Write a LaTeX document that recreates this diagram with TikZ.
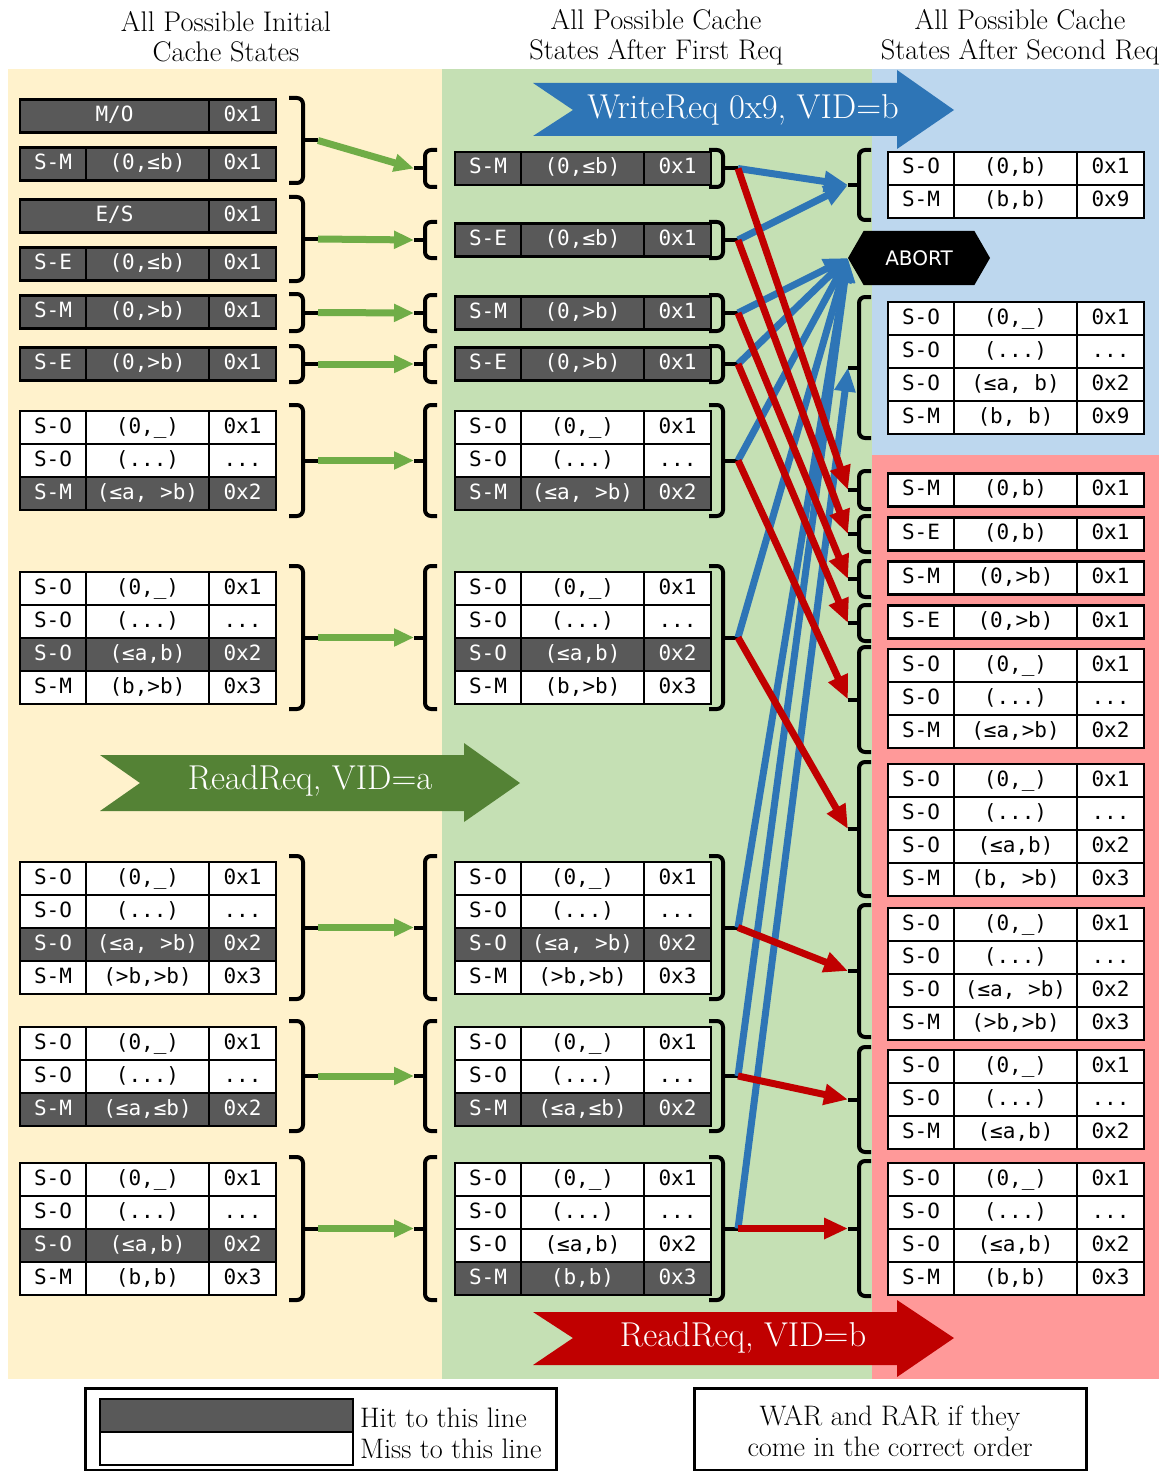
\documentclass[tikz,border=0pt]{standalone}
\usepackage{fontspec}
\usepackage{xcolor}
\usepackage{tikz}
\usetikzlibrary{arrows.meta, shapes.symbols}

\newfontfamily\cellfont{DejaVu Sans Mono}
\newfontfamily\abortfont{DejaVu Sans}

\definecolor{initbg}{HTML}{FFF2CC}
\definecolor{firstbg}{HTML}{C5E0B4}
\definecolor{okbg}{HTML}{BDD7EE}
\definecolor{warbg}{HTML}{FF9999}
\definecolor{hitgray}{HTML}{595959}
\definecolor{wrblue}{HTML}{2E75B6}
\definecolor{rdgreen}{HTML}{548235}
\definecolor{stepgreen}{HTML}{70AD47}
\definecolor{rdred}{HTML}{C00000}

% one cache line: [hit/miss]{name}{left x}{centre y}{state}{range}{data}
\newcommand{\cacherow}[7][miss]{%
  \node[#1, minimum width=66] (#2-st) at (#3+33,#4) {#5};
  \node[#1, minimum width=123] (#2-rg) at (#3+127.5,#4) {#6};
  \node[#1, minimum width=67] (#2-dt) at (#3+222.5,#4) {#7};
}
% line with merged state/range cell
\newcommand{\mergedrow}[4]{%
  \node[hit, minimum width=189] (#1-st) at (#2+94.5,#3) {#4};
  \node[hit, minimum width=67] (#1-dt) at (#2+222.5,#3) {0x1};
}
% closing bracket, tip named #1
\newcommand{\closebrace}[4]{%
  \draw[bracket, rounded corners=6] (#2-14,#3) -- (#2,#3) -- (#2,#4) -- (#2-14,#4);
  \draw[bracket] (#2,{(#3+#4)/2}) -- ++(15,0) coordinate (#1);
}
% opening bracket, tip named #1
\newcommand{\openbrace}[4]{%
  \draw[bracket, rounded corners=6] (#2+12,#3) -- (#2,#3) -- (#2,#4) -- (#2+12,#4);
  \draw[bracket] (#2,{(#3+#4)/2}) -- ++(-11,0) coordinate (#1);
}

\begin{document}
\begin{tikzpicture}[
            x=1pt, y=-1pt,
            cell/.style={draw=black, line width=2.5, minimum height=33, inner sep=0pt, text height=15, text depth=4, font=\cellfont\fontsize{21}{21}\selectfont},
            hit/.style={cell, fill=hitgray, text=white},
            miss/.style={cell, fill=white, text=black},
            bracket/.style={line width=4, black},
            title/.style={align=center, inner sep=0pt, font=\fontsize{28.4}{30}\selectfont},
            reqlabel/.style={text=white, inner sep=0pt, font=\fontsize{34.5}{34.5}\selectfont},
            keytext/.style={inner sep=0pt, font=\fontsize{28.2}{31}\selectfont},
            abort/.style={shape=signal, signal to=east and west, signal pointer angle=120, fill=black, text=white, minimum width=142, minimum height=54, inner sep=0pt, font=\abortfont\fontsize{20}{20}\selectfont},
            stepgo/.style={-{Triangle[length=20,width=17]}, line width=7, stepgreen},
            wrgo/.style={-{Triangle[length=24,width=20]}, line width=7, wrblue},
            rdgo/.style={-{Triangle[length=24,width=20]}, line width=7, rdred}
        ]
        \useasboundingbox (0,0) rectangle (1171,1471);

        % Backgrounds
        \fill[initbg] (8,69) rectangle (442,1379);
        \fill[firstbg] (442,69) rectangle (872,1379);
        \fill[okbg] (872,69) rectangle (1159,455);
        \fill[warbg] (872,455) rectangle (1159,1379);

        % Titles
        \node[title] (initT) at (226,37) {All Possible Initial\\Cache States};
        \node[title] (firstT) at (656,37) {All Possible Cache\\States After First Req};
        \node[title] (secondT) at (1020,37) {All Possible Cache\\States After Second Req};

        % Request arrows
        \fill[wrblue] (533,83) -- (897,83) -- (897,70) -- (954,110) -- (897,149) -- (897,136) -- (533,136) -- (573,110) -- cycle;
        \node[reqlabel] (wrreq) at (743,110) {WriteReq 0x9, VID=b};
        \fill[rdgreen] (100,755) -- (464,755) -- (464,743) -- (520,783) -- (464,822) -- (464,811) -- (100,811) -- (140,783) -- cycle;
        \node[reqlabel] (rdreqa) at (310,781) {ReadReq, VID=a};
        \fill[rdred] (533,1312) -- (897,1312) -- (897,1300) -- (954,1338) -- (897,1377) -- (897,1365) -- (533,1365) -- (573,1338) -- cycle;
        \node[reqlabel] (rdreqb) at (743,1338) {ReadReq, VID=b};

        % Initial states
        \mergedrow{L1a}{20}{116}{M/O}
        \cacherow[hit]{L1b}{20}{164}{S-M}{(0,≤b)}{0x1}
        \mergedrow{L2a}{20}{216}{E/S}
        \cacherow[hit]{L2b}{20}{264}{S-E}{(0,≤b)}{0x1}
        \cacherow[hit]{L3}{20}{312}{S-M}{(0,>b)}{0x1}
        \cacherow[hit]{L4}{20}{364}{S-E}{(0,>b)}{0x1}
        \cacherow{L5a}{20}{427.5}{S-O}{(0,\_)}{0x1}
        \cacherow{L5b}{20}{460.5}{S-O}{(...)}{...}
        \cacherow[hit]{L5c}{20}{493.5}{S-M}{(≤a, >b)}{0x2}
        \cacherow{L6a}{20}{588.5}{S-O}{(0,\_)}{0x1}
        \cacherow{L6b}{20}{621.5}{S-O}{(...)}{...}
        \cacherow[hit]{L6c}{20}{654.5}{S-O}{(≤a,b)}{0x2}
        \cacherow{L6d}{20}{687.5}{S-M}{(b,>b)}{0x3}
        \cacherow{L7a}{20}{878.5}{S-O}{(0,\_)}{0x1}
        \cacherow{L7b}{20}{911.5}{S-O}{(...)}{...}
        \cacherow[hit]{L7c}{20}{944.5}{S-O}{(≤a, >b)}{0x2}
        \cacherow{L7d}{20}{977.5}{S-M}{(>b,>b)}{0x3}
        \cacherow{L8a}{20}{1043.5}{S-O}{(0,\_)}{0x1}
        \cacherow{L8b}{20}{1076.5}{S-O}{(...)}{...}
        \cacherow[hit]{L8c}{20}{1109.5}{S-M}{(≤a,≤b)}{0x2}
        \cacherow{L9a}{20}{1179.5}{S-O}{(0,\_)}{0x1}
        \cacherow{L9b}{20}{1212.5}{S-O}{(...)}{...}
        \cacherow[hit]{L9c}{20}{1245.5}{S-O}{(≤a,b)}{0x2}
        \cacherow{L9d}{20}{1278.5}{S-M}{(b,b)}{0x3}

        % After first request
        \cacherow[hit]{M1}{455}{168.5}{S-M}{(0,≤b)}{0x1}
        \cacherow[hit]{M2}{455}{240}{S-E}{(0,≤b)}{0x1}
        \cacherow[hit]{M3}{455}{313}{S-M}{(0,>b)}{0x1}
        \cacherow[hit]{M4}{455}{364}{S-E}{(0,>b)}{0x1}
        \cacherow{M5a}{455}{427.5}{S-O}{(0,\_)}{0x1}
        \cacherow{M5b}{455}{460.5}{S-O}{(...)}{...}
        \cacherow[hit]{M5c}{455}{493.5}{S-M}{(≤a, >b)}{0x2}
        \cacherow{M6a}{455}{588.5}{S-O}{(0,\_)}{0x1}
        \cacherow{M6b}{455}{621.5}{S-O}{(...)}{...}
        \cacherow[hit]{M6c}{455}{654.5}{S-O}{(≤a,b)}{0x2}
        \cacherow{M6d}{455}{687.5}{S-M}{(b,>b)}{0x3}
        \cacherow{M7a}{455}{878.5}{S-O}{(0,\_)}{0x1}
        \cacherow{M7b}{455}{911.5}{S-O}{(...)}{...}
        \cacherow[hit]{M7c}{455}{944.5}{S-O}{(≤a, >b)}{0x2}
        \cacherow{M7d}{455}{977.5}{S-M}{(>b,>b)}{0x3}
        \cacherow{M8a}{455}{1043.5}{S-O}{(0,\_)}{0x1}
        \cacherow{M8b}{455}{1076.5}{S-O}{(...)}{...}
        \cacherow[hit]{M8c}{455}{1109.5}{S-M}{(≤a,≤b)}{0x2}
        \cacherow{M9a}{455}{1179.5}{S-O}{(0,\_)}{0x1}
        \cacherow{M9b}{455}{1212.5}{S-O}{(...)}{...}
        \cacherow{M9c}{455}{1245.5}{S-O}{(≤a,b)}{0x2}
        \cacherow[hit]{M9d}{455}{1278.5}{S-M}{(b,b)}{0x3}

        % After second request
        \cacherow{R1a}{888}{168.5}{S-O}{(0,b)}{0x1}
        \cacherow{R1b}{888}{201.5}{S-M}{(b,b)}{0x9}
        \node[abort] (abort) at (919,258) {ABORT};
        \cacherow{R2a}{888}{318.5}{S-O}{(0,\_)}{0x1}
        \cacherow{R2b}{888}{351.5}{S-O}{(...)}{...}
        \cacherow{R2c}{888}{384.5}{S-O}{(≤a, b)}{0x2}
        \cacherow{R2d}{888}{417.5}{S-M}{(b, b)}{0x9}
        \cacherow{R3}{888}{490}{S-M}{(0,b)}{0x1}
        \cacherow{R4}{888}{534}{S-E}{(0,b)}{0x1}
        \cacherow{R5}{888}{578}{S-M}{(0,>b)}{0x1}
        \cacherow{R6}{888}{622}{S-E}{(0,>b)}{0x1}
        \cacherow{R7a}{888}{665.5}{S-O}{(0,\_)}{0x1}
        \cacherow{R7b}{888}{698.5}{S-O}{(...)}{...}
        \cacherow{R7c}{888}{731.5}{S-M}{(≤a,>b)}{0x2}
        \cacherow{R8a}{888}{780.5}{S-O}{(0,\_)}{0x1}
        \cacherow{R8b}{888}{813.5}{S-O}{(...)}{...}
        \cacherow{R8c}{888}{846.5}{S-O}{(≤a,b)}{0x2}
        \cacherow{R8d}{888}{879.5}{S-M}{(b, >b)}{0x3}
        \cacherow{R9a}{888}{924.5}{S-O}{(0,\_)}{0x1}
        \cacherow{R9b}{888}{957.5}{S-O}{(...)}{...}
        \cacherow{R9c}{888}{990.5}{S-O}{(≤a, >b)}{0x2}
        \cacherow{R9d}{888}{1023.5}{S-M}{(>b,>b)}{0x3}
        \cacherow{R10a}{888}{1066.5}{S-O}{(0,\_)}{0x1}
        \cacherow{R10b}{888}{1099.5}{S-O}{(...)}{...}
        \cacherow{R10c}{888}{1132.5}{S-M}{(≤a,b)}{0x2}
        \cacherow{R11a}{888}{1179.5}{S-O}{(0,\_)}{0x1}
        \cacherow{R11b}{888}{1212.5}{S-O}{(...)}{...}
        \cacherow{R11c}{888}{1245.5}{S-O}{(≤a,b)}{0x2}
        \cacherow{R11d}{888}{1278.5}{S-M}{(b,b)}{0x3}

        % Brackets
        \closebrace{ini1}{303}{98}{183}
        \closebrace{ini2}{303}{197}{281}
        \closebrace{ini3}{303}{294}{331}
        \closebrace{ini4}{303}{346}{382}
        \closebrace{ini5}{303}{405}{516}
        \closebrace{ini6}{303}{566}{709}
        \closebrace{ini7}{303}{856}{999}
        \closebrace{ini8}{303}{1021}{1131}
        \closebrace{ini9}{303}{1157}{1300}

        \openbrace{fst1-in}{425}{150}{187}
        \openbrace{fst2-in}{425}{222}{258}
        \openbrace{fst3-in}{425}{295}{331}
        \openbrace{fst4-in}{425}{346}{382}
        \openbrace{fst5-in}{425}{405}{516}
        \openbrace{fst6-in}{425}{566}{709}
        \openbrace{fst7-in}{425}{856}{999}
        \openbrace{fst8-in}{425}{1021}{1131}
        \openbrace{fst9-in}{425}{1157}{1300}

        \closebrace{fst1}{723}{150}{187}
        \closebrace{fst2}{723}{222}{258}
        \closebrace{fst3}{723}{295}{331}
        \closebrace{fst4}{723}{346}{382}
        \closebrace{fst5}{723}{405}{516}
        \closebrace{fst6}{723}{566}{709}
        \closebrace{fst7}{723}{856}{999}
        \closebrace{fst8}{723}{1021}{1131}
        \closebrace{fst9}{723}{1157}{1300}

        \openbrace{snd1}{859}{150}{220}
        \openbrace{snd2}{859}{297}{438}
        \openbrace{snd3}{859}{471}{509}
        \openbrace{snd4}{859}{516}{552}
        \openbrace{snd5}{859}{561}{597}
        \openbrace{snd6}{859}{605}{641}
        \openbrace{snd7}{859}{647}{752}
        \openbrace{snd8}{859}{762}{896}
        \openbrace{snd9}{859}{905}{1037}
        \openbrace{snd10}{859}{1047}{1152}
        \openbrace{snd11}{859}{1161}{1296}

        % ReadReq a
        \draw[stepgo] (ini1) -- (fst1-in);
        \draw[stepgo] (ini2) -- (fst2-in);
        \draw[stepgo] (ini3) -- (fst3-in);
        \draw[stepgo] (ini4) -- (fst4-in);
        \draw[stepgo] (ini5) -- (fst5-in);
        \draw[stepgo] (ini6) -- (fst6-in);
        \draw[stepgo] (ini7) -- (fst7-in);
        \draw[stepgo] (ini8) -- (fst8-in);
        \draw[stepgo] (ini9) -- (fst9-in);

        % WriteReq b
        \draw[wrgo] (fst1) -- (snd1);
        \draw[wrgo] (fst2) -- (snd1);
        \draw[wrgo] (fst3) -- (abort.west);
        \draw[wrgo] (fst4) -- (abort.west);
        \draw[wrgo] (fst5) -- (abort.west);
        \draw[wrgo] (fst6) -- (abort.west);
        \draw[wrgo] (fst7) -- (abort.west);
        \draw[wrgo] (fst8) -- (abort.west);
        \draw[wrgo] (fst9) -- (snd2);

        % ReadReq b
        \draw[rdgo] (fst1) -- (snd3);
        \draw[rdgo] (fst2) -- (snd4);
        \draw[rdgo] (fst3) -- (snd5);
        \draw[rdgo] (fst4) -- (snd6);
        \draw[rdgo] (fst5) -- (snd7);
        \draw[rdgo] (fst6) -- (snd8);
        \draw[rdgo] (fst7) -- (snd9);
        \draw[rdgo] (fst8) -- (snd10);
        \draw[rdgo] (fst9) -- (snd11);

        % Legend
        \draw[line width=3] (85,1388) rectangle (556,1470);
        \node[hit, minimum width=253] (hitkey) at (226.5,1415.5) {};
        \node[miss, minimum width=253] (misskey) at (226.5,1448.5) {};
        \node[keytext, anchor=west] (hittext) at (360,1418) {Hit to this line};
        \node[keytext, anchor=west] (misstext) at (360,1449) {Miss to this line};
        \draw[line width=3] (694,1388) rectangle (1086,1470);
        \node[keytext, align=center] (warnote) at (890,1431) {WAR and RAR if they\\come in the correct order};

        \end{tikzpicture}
\end{document}
